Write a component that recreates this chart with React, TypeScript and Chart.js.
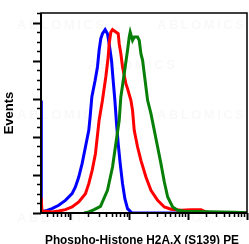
import React, { useEffect, useRef } from "react";
import { Chart, registerables } from "chart.js";

Chart.register(...registerables);

// x: fluorescence intensity (log), y: events
const blueX = [3.17, 3.2, 3.51, 4.0, 4.87, 6.32, 8.21, 10.66, 12.15, 13.85, 15.79, 17.99, 20.5, 21.6, 23.1, 26.3, 28.8, 30.7, 32.8, 35.0, 38.9, 42.6, 45.5, 49.9, 53.2, 56.9, 60.7, 64.8, 70.1, 76.8, 84.1, 93.4, 109, 121, 10000];
const blueY = [118, 2, 1.8, 2.8, 4.6, 8.1, 13.3, 20.3, 27.3, 37.8, 51.8, 69.3, 86.8, 100.8, 121.8, 139.3, 153.3, 170.8, 183, 188.3, 192.5, 188.3, 177.8, 160.3, 139.3, 118.3, 93.8, 72.8, 51.8, 30.8, 15, 4.6, 0.4, 0, 0];

const redX = [3.17, 3.3, 3.75, 4.87, 6.32, 8.21, 10.66, 13.85, 17.99, 20.5, 23.4, 26.6, 30.7, 35, 39.9, 43.8, 45.5, 48.6, 51.9, 59.1, 64.8, 67.4, 71.9, 76.8, 87.5, 93.4, 106.5, 113.6, 121.3, 138.3, 157.6, 191.8, 233.3, 303, 394, 511, 757, 1121, 1659, 1891, 2455, 10000];
const redY = [16.8, 1, 1.75, 1.05, 2.1, 3.5, 6.3, 11.6, 20.3, 30.8, 44.8, 62.3, 97.3, 118.3, 142.8, 163.8, 177.8, 190, 192.5, 190, 188.3, 177.8, 167.3, 153.3, 135.8, 130.6, 118.3, 107.8, 86.8, 69.3, 55.3, 37.8, 23.8, 13.3, 6.3, 3.9, 2.8, 3.5, 3.5, 1.75, 0, 0];

const greenX = [17.1, 20.5, 25.3, 32.4, 42.6, 51.9, 59.1, 67.4, 71.9, 82, 93.4, 99.7, 103.7, 113.6, 121.3, 138.3, 147.6, 157.6, 168.3, 179.6, 191.8, 204.7, 233.3, 266, 303, 345, 394, 449, 546, 664, 863, 6133, 10000];
const greenY = [0, 1.05, 3.5, 7, 23.8, 48.3, 72.8, 97.3, 121.8, 146.3, 170.8, 184.8, 190, 181.3, 184.8, 184.8, 181.3, 167.3, 160.3, 146.3, 132.3, 118.3, 104.3, 86.8, 69.3, 51.8, 32.6, 16.8, 6.3, 2.8, 1.75, 0.7, 0.35];

const xMin = 3.162;
const xMax = 10000;
const xDecades = [10, 100, 1000, 10000];
const yMax = 210;
const yMajorStep = 40;
const yMinorStep = 10;

const xTitle = "Phospho-Histone H2A.X (S139) PE";
const yTitle = "Events";
const watermark = "ABLOMICS";

const pts = (xs: number[], ys: number[]) => xs.map((x, i) => ({ x, y: ys[i] }));

const decorPlugin = {
  id: "decor",
  beforeDatasetsDraw(chart: any) {
    const ctx = chart.ctx;
    ctx.save();
    ctx.fillStyle = "rgba(0,0,0,0.028)";
    ctx.font = "bold 13px 'Liberation Sans', Arial, sans-serif";
    (ctx as any).letterSpacing = "2.5px";
    ctx.textBaseline = "middle";
    const spots = [
      [17, 25], [157, 25], [88, 65], [17, 115], [157, 115], [17, 218], [157, 218],
    ];
    spots.forEach(([x, y]) => ctx.fillText(watermark, x, y));
    ctx.restore();
  },
  afterDatasetsDraw(chart: any) {
    const ctx = chart.ctx;
    const { left, right, top, bottom } = chart.chartArea;
    const xs = chart.scales.x;
    const ys = chart.scales.y;
    ctx.save();
    ctx.strokeStyle = "#000";
    ctx.lineWidth = 1.5;
    ctx.strokeRect(left, top, right - left, bottom - top);
    ctx.lineWidth = 2;
    ctx.beginPath();
    ctx.moveTo(left, top);
    ctx.lineTo(left, bottom);
    ctx.lineTo(right, bottom);
    ctx.stroke();
    // y ticks
    for (let v = 0; v <= yMax; v += yMinorStep) {
      const py = Math.round(ys.getPixelForValue(v)) + 0.5;
      const major = v % yMajorStep === 0;
      ctx.lineWidth = major ? 2 : 1.5;
      ctx.beginPath();
      ctx.moveTo(left - (major ? 8 : 4), py);
      ctx.lineTo(left, py);
      ctx.stroke();
    }
    // x ticks
    for (let d = 1; d <= 10000; d *= 10) {
      for (let m = 1; m <= 9; m++) {
        const v = d * m;
        if (v < xMin || v > xMax + 1) continue;
        const px = Math.round(xs.getPixelForValue(v)) + 0.5;
        const major = xDecades.includes(v);
        ctx.lineWidth = major ? 2 : 1.5;
        ctx.beginPath();
        ctx.moveTo(px, bottom);
        ctx.lineTo(px, bottom + (major ? 7 : 4));
        ctx.stroke();
      }
    }
    // titles
    ctx.fillStyle = "#000";
    ctx.font = "bold 13px 'Liberation Sans', Arial, sans-serif";
    ctx.textAlign = "center";
    ctx.textBaseline = "alphabetic";
    const w = ctx.measureText(xTitle).width;
    const sx = Math.min(1, 194 / w);
    ctx.save();
    ctx.translate(142, 244);
    ctx.scale(sx, 1);
    ctx.fillText(xTitle, 0, 0);
    ctx.restore();
    ctx.translate(13, 113);
    ctx.rotate(-Math.PI / 2);
    ctx.fillText(yTitle, 0, 0);
    ctx.restore();
  },
};

export default function App() {
  const ref = useRef<HTMLCanvasElement>(null);
  useEffect(() => {
    if (!ref.current) return;
    const chart = new Chart(ref.current, {
      type: "line",
      data: {
        datasets: [
          { data: pts(greenX, greenY), borderColor: "#087f08", borderWidth: 3, pointRadius: 0, tension: 0 },
          { data: pts(redX, redY), borderColor: "#ff0000", borderWidth: 3, pointRadius: 0, tension: 0 },
          { data: pts(blueX, blueY), borderColor: "#0000ff", borderWidth: 3, pointRadius: 0, tension: 0 },
        ],
      },
      options: {
        animation: false,
        responsive: false,
        events: [],
        layout: { padding: { left: 41, right: 2, top: 13, bottom: 31 } },
        plugins: { legend: { display: false }, tooltip: { enabled: false } },
        scales: {
          x: { type: "logarithmic", min: xMin, max: xMax, display: false },
          y: { type: "linear", min: 0, max: yMax, display: false },
        },
      },
      plugins: [decorPlugin],
    });
    return () => chart.destroy();
  }, []);
  return (
    <div style={{ position: "absolute", left: 0, top: 0, width: 249, height: 244, background: "#fff" }}>
      <canvas ref={ref} width={249} height={244} style={{ display: "block" }} />
    </div>
  );
}
